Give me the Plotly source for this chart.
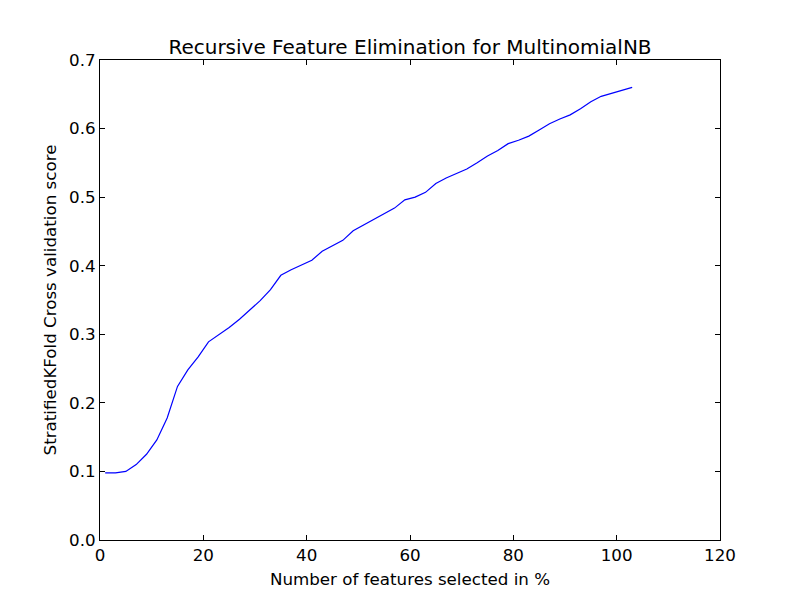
import plotly.graph_objects as go

features_pct = [1, 3, 5, 7, 9, 11, 13, 15, 17, 19, 21, 23, 25, 27, 29, 31, 33, 35, 37, 39,
                41, 43, 45, 47, 49, 51, 53, 55, 57, 59, 61, 63, 65, 67, 69, 71, 73, 75, 77, 79,
                81, 83, 85, 87, 89, 91, 93, 95, 97, 99, 101, 103]
cv_score = [0.098, 0.098, 0.100, 0.110, 0.125, 0.146, 0.178, 0.224, 0.248, 0.267, 0.289, 0.299,
            0.310, 0.322, 0.335, 0.349, 0.365, 0.386, 0.394, 0.401, 0.408, 0.421, 0.429, 0.437,
            0.451, 0.459, 0.467, 0.476, 0.484, 0.496, 0.500, 0.507, 0.520, 0.528, 0.535, 0.541,
            0.550, 0.560, 0.568, 0.578, 0.583, 0.589, 0.598, 0.607, 0.614, 0.620, 0.629, 0.639,
            0.647, 0.651, 0.656, 0.660]

x_ticks = [0, 20, 40, 60, 80, 100, 120]
y_ticks = [0.0, 0.1, 0.2, 0.3, 0.4, 0.5, 0.6, 0.7]

font = "DejaVu Sans"

fig = go.Figure()
fig.add_trace(go.Scatter(x=features_pct, y=cv_score, mode="lines",
                         line=dict(color="#0000ff", width=1.2), showlegend=False))

axis_common = dict(showline=True, linecolor="black", linewidth=1, mirror="allticks",
                   ticks="inside", ticklen=5, tickwidth=1, tickcolor="black",
                   showgrid=False, zeroline=False, automargin=False,
                   tickfont=dict(family=font, size=16.7, color="black"))

fig.update_xaxes(range=[0, 120], tickvals=x_ticks,
                 ticktext=[str(v) for v in x_ticks],
                 title=dict(text="Number of features selected in %",
                            font=dict(family=font, size=16.7, color="black"), standoff=9),
                 **axis_common)
fig.update_yaxes(range=[0, 0.7], tickvals=y_ticks,
                 ticktext=[f"{v:.1f}" for v in y_ticks],
                 title=dict(text="StratifiedKFold Cross validation score",
                            font=dict(family=font, size=16.7, color="black"), standoff=8),
                 **axis_common)

fig.update_layout(
    width=800, height=600,
    margin=dict(l=92, r=88, t=52, b=68),
    paper_bgcolor="white", plot_bgcolor="white",
    title=dict(text="Recursive Feature Elimination for MultinomialNB",
               font=dict(family=font, size=20, color="black"),
               x=0.5025, xanchor="center", y=1 - 39 / 600, yanchor="middle",
               xref="container", yref="container"),
)

fig.write_html("out.html")
